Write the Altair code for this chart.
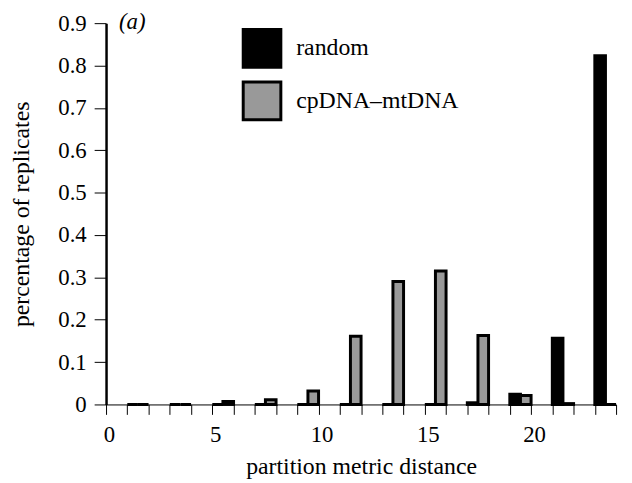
import altair as alt
import pandas as pd

# group start positions on the x axis (each group spans one unit)
group_start = [1, 3, 5, 7, 9, 11, 13, 15, 17, 19, 21, 23]
random_vals = [0, 0, 0, 0, 0, 0, 0, 0, 0.004, 0.024, 0.156, 0.823]
cpdna_vals = [0, 0, 0.007, 0.011, 0.032, 0.161, 0.290, 0.315, 0.163, 0.021, 0.002, 0]
series_names = ["random", "cpDNA\u2013mtDNA"]
x_tick_values = list(range(0, 25))
y_tick_values = [0, 0.1, 0.2, 0.3, 0.4, 0.5, 0.6, 0.7, 0.8, 0.9]

rows = []
for g, r, c in zip(group_start, random_vals, cpdna_vals):
    rows.append({"x": g, "x2": g + 0.5, "value": r, "series": series_names[0]})
    rows.append({"x": g + 0.5, "x2": g + 1, "value": c, "series": series_names[1]})
df = pd.DataFrame(rows)

FONT = "Liberation Serif"
xscale = alt.Scale(domain=[0, 24], nice=False, zero=False)
yscale = alt.Scale(domain=[0, 0.9], nice=False)

bars = alt.Chart(df).mark_bar(stroke="black", strokeWidth=3, opacity=1).encode(
    x=alt.X(
        "x:Q",
        scale=xscale,
        axis=alt.Axis(
            values=x_tick_values,
            labelExpr="datum.value % 5 == 0 ? datum.label : ''",
            labelOverlap=False,
            labelFlush=False,
            title="partition metric distance",
            titleY=70,
            titleBaseline="alphabetic",
            labelPadding=9,
            labelOffset=3,
            tickSize=10,
            tickColor="black",
            domainColor="black",
        ),
    ),
    x2="x2:Q",
    y=alt.Y(
        "value:Q",
        scale=yscale,
        axis=alt.Axis(
            values=y_tick_values,
            format=".1~f",
            labelOverlap=False,
            title="percentage of replicates",
            titleX=-78,
            titleBaseline="alphabetic",
            labelPadding=8,
            tickSize=12,
            tickColor="black",
            domainWidth=2.5,
            domainColor="#000000",
        ),
    ),
    y2=alt.datum(0),
    color=alt.Color(
        "series:N",
        scale=alt.Scale(domain=series_names, range=["#000000", "#999999"]),
        legend=alt.Legend(
            title=None,
            orient="none",
            legendX=137,
            legendY=5,
            symbolType="square",
            symbolSize=1444,
            symbolStrokeColor="black",
            symbolStrokeWidth=3,
            symbolOpacity=1,
            labelFontSize=24,
            labelFont=FONT,
            labelColor="black",
            labelOffset=14,
            labelLimit=300,
            rowPadding=2,
            padding=0,
        ),
    ),
)

chart = (
    bars
    .properties(
        width=515,
        height=385,
        autosize=alt.AutoSizeParams(type="none"),
        padding={"left": 99, "top": 13, "right": 8, "bottom": 76},
        title=alt.TitleParams(
            "(a)", anchor="start", frame="group", dx=13, dy=33, offset=0,
            font=FONT, fontSize=23, fontStyle="italic", fontWeight="normal",
            color="black", baseline="middle",
        ),
    )
    .configure_view(stroke=None)
    .configure_axis(
        grid=False,
        labelFont=FONT,
        labelFontSize=23,
        labelColor="black",
        titleFont=FONT,
        titleFontSize=24,
        titleFontWeight="normal",
        titleColor="black",
    )
)

chart.save("out.html", embed_options={"renderer": "svg", "actions": False})
